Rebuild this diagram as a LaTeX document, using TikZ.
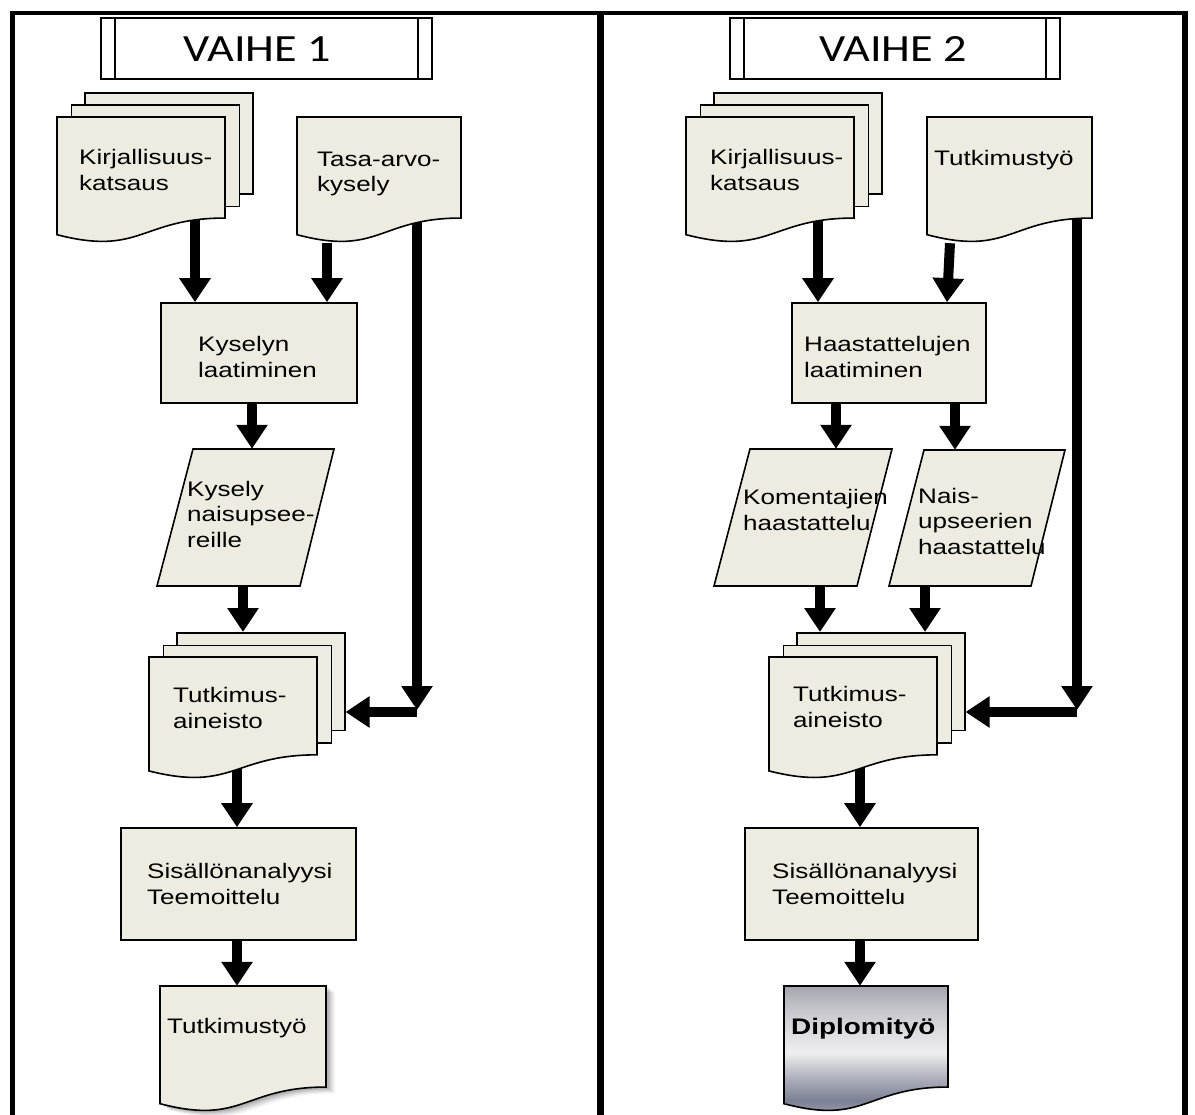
\documentclass[tikz,border=0pt]{standalone}
\usepackage{fontspec}
\setmainfont{Liberation Sans}[FakeStretch=1.24]
\newfontfamily\headfont{Carlito}[FakeStretch=1.2]
\usetikzlibrary{arrows.meta,calc}

\pgfdeclarelayer{back}
\pgfdeclarelayer{conn}
\pgfsetlayers{back,conn,main}

\definecolor{paper}{HTML}{EEECE1}
% steel-grey gradient of the final document
\definecolor{dgA}{HTML}{B2B4BE}
\definecolor{dgB}{HTML}{7C8094}
\definecolor{dgC}{HTML}{B4B6C0}
\definecolor{dgD}{HTML}{EEEEEF}
\definecolor{dgE}{HTML}{DCDCDF}
\definecolor{dgF}{HTML}{BDBEC4}
\definecolor{dgG}{HTML}{A3A4AC}
\pgfdeclareverticalshading{diploshade}{100bp}{color(0bp)=(dgA); color(25bp)=(dgA); color(34bp)=(dgB); color(43bp)=(dgC); color(51bp)=(dgD); color(59bp)=(dgE); color(69bp)=(dgF); color(75bp)=(dgG); color(100bp)=(dgG)}

% flowchart "document" outline: left, top, width, height, style
\newcommand\docfill[5]{%
  \path[#5] (#1,#2) -- ({#1+#3},#2) -- ({#1+#3},{#2+0.802*#4})
    .. controls ({#1+0.5*#3},{#2+0.802*#4}) and ({#1+0.5*#3},{#2+1.1075*#4}) .. (#1,{#2+0.934*#4}) -- cycle;}
% document with an anchor node: name, left, top, width, height, style
\newcommand\flowdoc[6]{%
  \docfill{#2}{#3}{#4}{#5}{#6}%
  \node[inner sep=0pt, minimum width=#4pt, minimum height=#5pt] (#1) at ({#2+0.5*#4},{#3+0.5*#5}) {};}
% stacked documents: name, left, top, width, height
\newcommand\flowmulti[5]{%
  \pgfmathsetmacro\pageh{0.802*#5}%
  \node[shapeline, inner sep=0pt, anchor=north west, minimum width=#4pt, minimum height=\pageh pt] (#1-p3) at ({#2+27},{#3-25}) {};
  \node[shapeline, inner sep=0pt, anchor=north west, minimum width=#4pt, minimum height=\pageh pt] (#1-p2) at ({#2+13.5},{#3-12.5}) {};
  \flowdoc{#1}{#2}{#3}{#4}{#5}{shapeline}}

\begin{document}
\begin{tikzpicture}[x=1pt, y=-1pt,
  shapeline/.style={draw=black, line width=1.6pt, fill=paper},
  procbox/.style={shapeline, inner sep=0pt},
  diplostyle/.style={draw=black, line width=1.6pt, shading=diploshade},
  arr/.style={line width=10pt, -{Triangle[width=30pt,length=24pt]}},
  lbl/.style={anchor=west, align=left, inner sep=0pt, font=\fontsize{21}{25.5}\selectfont},
  headbox/.style={draw=black, line width=1.6pt, fill=white, inner sep=0pt, minimum height=61pt},
  hbar/.style={line width=1.6pt},
  headtxt/.style={inner sep=0pt, font=\headfont\fontsize{38.5}{40}\selectfont},
  frameline/.style={draw=black}]

\begin{pgfonlayer}{back}
  \fill[white] (0,0) rectangle (1195,1115);
\end{pgfonlayer}
\useasboundingbox (0,0) rectangle (1195,1115);

% ---- outer frame and divider
\draw[frameline, line width=5.5pt] (12.5,1115) -- (12.5,11);
\draw[frameline, line width=4pt] (10,13) -- (1188,13);
\draw[frameline, line width=5.5pt] (1185,11) -- (1185,1115);
\draw[frameline, line width=7pt] (600,13) -- (600,1115);

% ---- phase headers
\node[headbox, minimum width=331pt] (h1) at (266.5,48.5) {};
\draw[hbar] ([xshift=15pt]h1.north west) -- ([xshift=15pt]h1.south west);
\draw[hbar] ([xshift=-15pt]h1.north east) -- ([xshift=-15pt]h1.south east);
\node[headtxt] (h1t) at (257,49) {VAIHE 1};

\node[headbox, minimum width=330pt] (h2) at (895,48.5) {};
\draw[hbar] ([xshift=15pt]h2.north west) -- ([xshift=15pt]h2.south west);
\draw[hbar] ([xshift=-15pt]h2.north east) -- ([xshift=-15pt]h2.south east);
\node[headtxt] (h2t) at (893,49) {VAIHE 2};

% ---- phase 1 shapes
\flowmulti{kirjL}{57}{117}{168}{126}
\flowdoc{tasaL}{297}{117}{164}{126}{shapeline}
\node[procbox, minimum width=196pt, minimum height=100pt] (kysL) at (259,353) {};
\draw[shapeline] (193,449) -- (334,449) -- (300,586) -- (157,586) -- cycle;
\node[inner sep=0pt, minimum width=177pt, minimum height=137pt] (parL) at (245.5,517.5) {};
\flowmulti{tutkL}{149}{657}{168}{122}
\node[procbox, minimum width=235pt, minimum height=112pt] (sisL) at (238.5,884) {};
\foreach \s/\o in {9/0.05, 7/0.07, 5/0.09, 3/0.11}
  \docfill{160}{986}{166}{126}{fill=black, opacity=\o, xshift=\s pt, yshift=-0.7*\s pt};
\flowdoc{tyoL}{160}{986}{166}{126}{shapeline}

% ---- phase 2 shapes
\flowmulti{kirjR}{686}{117}{168}{126}
\flowdoc{tyoR}{927}{117}{165}{126}{shapeline}
\node[procbox, minimum width=194pt, minimum height=100pt] (haast) at (889,353) {};
\draw[shapeline] (750,449) -- (892,449) -- (857,586) -- (714,586) -- cycle;
\node[inner sep=0pt, minimum width=178pt, minimum height=137pt] (parR1) at (803,517.5) {};
\draw[shapeline] (924,450) -- (1065,450) -- (1031,586) -- (889,586) -- cycle;
\node[inner sep=0pt, minimum width=176pt, minimum height=136pt] (parR2) at (977,518) {};
\flowmulti{tutkR}{769}{657}{168}{122}
\node[procbox, minimum width=233pt, minimum height=112pt] (sisR) at (861.5,884) {};
\flowdoc{diplo}{784}{986}{164}{126}{diplostyle}

% ---- labels
\node[lbl] (kirjLt) at (79,170) {Kirjallisuus-\\katsaus};
\node[lbl] (tasaLt) at (317,174) {Tasa-arvo-\\kysely};
\node[lbl] (kysLt) at (198,357) {Kyselyn\\laatiminen};
\node[lbl] (parLt) at (187,514) {Kysely\\naisupsee-\\reille};
\node[lbl] (tutkLt) at (173,708) {Tutkimus-\\aineisto};
\node[lbl] (sisLt) at (147,884) {Sisällönanalyysi\\Teemoittelu};
\node[lbl] (tyoLt) at (167,1028) {Tutkimustyö};

\node[lbl] (kirjRt) at (710,170) {Kirjallisuus-\\katsaus};
\node[lbl] (tyoRt) at (934,160) {Tutkimustyö};
\node[lbl] (haastt) at (804,357) {Haastattelujen\\laatiminen};
\node[lbl] (parR1t) at (743,510) {Komentajien\\haastattelu};
\node[lbl] (parR2t) at (918,521) {Nais-\\upseerien\\haastattelu};
\node[lbl] (tutkRt) at (793,707) {Tutkimus-\\aineisto};
\node[lbl] (sisRt) at (772,884) {Sisällönanalyysi\\Teemoittelu};
\node[lbl, font=\fontsize{22.5}{25}\selectfont\bfseries] (diplot) at (791,1029) {Diplomityö};

% ---- connector columns
\coordinate (cA) at (195,0);
\coordinate (cB) at (327,0);
\coordinate (cC) at (417,0);
\coordinate (cD) at (252,0);
\coordinate (cE) at (243,0);
\coordinate (cF) at (237,0);
\coordinate (cornL) at (417,712);
\coordinate (rA) at (818,0);
\coordinate (rB1) at (950,0);
\coordinate (rB2) at (947,0);
\coordinate (rC) at (1077,0);
\coordinate (rD) at (836,0);
\coordinate (rE) at (955,0);
\coordinate (rF) at (820,0);
\coordinate (rG) at (925,0);
\coordinate (rH) at (860,0);
\coordinate (cornR) at (1077,712);
\coordinate (cornLtip) at (417,710);
\coordinate (cornRtip) at (1077,710);

% ---- connectors, kept behind the shapes
\begin{pgfonlayer}{conn}
  \draw[arr] (cA |- kirjL.center) -- (cA |- kysL.north);
  \draw[arr] (cB |- tasaL.south) -- (cB |- kysL.north);
  \draw[arr] (cC |- tasaL.center) -- (cornLtip);
  \draw[arr] (cornL) -- (cornL -| tutkL-p3.east);
  \draw[arr] (cD |- kysL.center) -- (cD |- parL.north);
  \draw[arr] (cE |- parL.center) -- (cE |- tutkL-p3.north);
  \draw[arr] (cF |- tutkL.center) -- (cF |- sisL.north);
  \draw[arr] (cF |- sisL.center) -- (cF |- tyoL.north);

  \draw[arr] (rA |- kirjR.center) -- (rA |- haast.north);
  \draw[arr] (rB1 |- tyoR.south) -- (rB2 |- haast.north);
  \draw[arr] (rC |- tyoR.center) -- (cornRtip);
  \draw[arr] (cornR) -- (cornR -| tutkR-p3.east);
  \draw[arr] (rD |- haast.center) -- (rD |- parR1.north);
  \draw[arr] (rE |- haast.center) -- (rE |- parR2.north);
  \draw[arr] (rF |- parR1.center) -- (rF |- tutkR-p3.north);
  \draw[arr] (rG |- parR2.south) -- (rG |- tutkR-p3.north);
  \draw[arr] (rH |- tutkR.center) -- (rH |- sisR.north);
  \draw[arr] (rH |- sisR.center) -- (rH |- diplo.north);
\end{pgfonlayer}
\end{tikzpicture}
\end{document}
